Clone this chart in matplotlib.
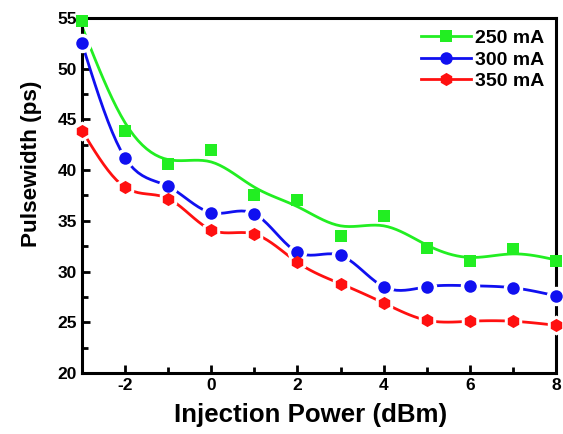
import numpy as np
import matplotlib
matplotlib.use("Agg")
import matplotlib.pyplot as plt
from matplotlib.ticker import MultipleLocator

plt.rcParams['font.family'] = ['Liberation Sans', 'DejaVu Sans']
plt.rcParams['font.weight'] = 'bold'
plt.rcParams['axes.unicode_minus'] = False

power = [-3, -2, -1, 0, 1, 2, 3, 4, 5, 6, 7, 8]
pw_250 = [54.7, 43.9, 40.6, 42.0, 37.5, 37.1, 33.5, 35.5, 32.3, 31.0, 32.2, 31.0]
pw_300 = [52.5, 41.2, 38.4, 35.8, 35.7, 31.9, 31.6, 28.5, 28.5, 28.6, 28.4, 27.6]
pw_350 = [43.9, 38.3, 37.2, 34.1, 33.7, 30.9, 28.8, 26.9, 25.2, 25.1, 25.1, 24.7]
labels = ['250 mA', '300 mA', '350 mA']


def smooth_curve(x, y, lam, n=10):
    # penalised fit on a fine grid (discrete smoothing spline)
    x = np.asarray(x, float)
    y = np.asarray(y, float)
    xf = np.linspace(x[0], x[-1], (len(x) - 1) * n + 1)
    m = len(xf)
    w = np.zeros(m)
    yy = np.zeros(m)
    idx = np.arange(len(x)) * n
    w[idx] = 1.0
    yy[idx] = y
    D = np.diff(np.eye(m), 2, axis=0)
    A = np.diag(w) + lam * D.T @ D
    return xf, np.linalg.solve(A, w * yy)


fig = plt.figure(figsize=(5.63, 4.34), dpi=100)
ax = fig.add_axes([0.1457, 0.1406, 0.8419, 0.8179])

# values, colour, marker, size, smoothing, gap round marker
series = [(pw_250, '#22ee22', 's', 8, 70.0, False),
          (pw_300, '#1010f0', 'o', 9, 0.001, True),
          (pw_350, '#ff1010', 'h', 9.5, 0.001, True)]

for (vals, col, mk, ms, lam, gap), lab in zip(series, labels):
    xf, yf = smooth_curve(power, vals, lam)
    ax.plot(xf, yf, color=col, lw=2, zorder=2)
    if gap:
        ax.plot(power, vals, ls='none', marker=mk, ms=ms + 5, color='white',
                mew=0, zorder=3, clip_on=False)
    ax.plot(power, vals, ls='none', marker=mk, ms=ms, color=col, mew=0,
            zorder=4, clip_on=False)
    ax.plot([], [], color=col, lw=2, marker=mk, ms=ms, mew=0, label=lab)

ax.set_xlim(-3, 8)
ax.set_ylim(20, 55)
ax.xaxis.set_major_locator(MultipleLocator(2))
ax.xaxis.set_minor_locator(MultipleLocator(1))
ax.yaxis.set_major_locator(MultipleLocator(5))
ax.yaxis.set_minor_locator(MultipleLocator(2.5))
ax.tick_params(which='both', direction='in', width=2, labelsize=12.5)
ax.tick_params(which='major', length=6)
ax.tick_params(which='minor', length=4)
for s in ax.spines.values():
    s.set_linewidth(2.2)

ax.set_xlabel('Injection Power (dBm)', fontsize=18.6, fontweight='bold')
ax.xaxis.set_label_coords(0.483, -0.085)
ax.set_ylabel('Pulsewidth (ps)', fontsize=16.2, fontweight='bold')
ax.yaxis.set_label_coords(-0.084, 0.59)

ax.legend(loc='upper right', frameon=False, fontsize=14, handlelength=2.6,
          handletextpad=0.2, labelspacing=0.2, borderaxespad=0.2)

fig.savefig('out.png', dpi=100)
